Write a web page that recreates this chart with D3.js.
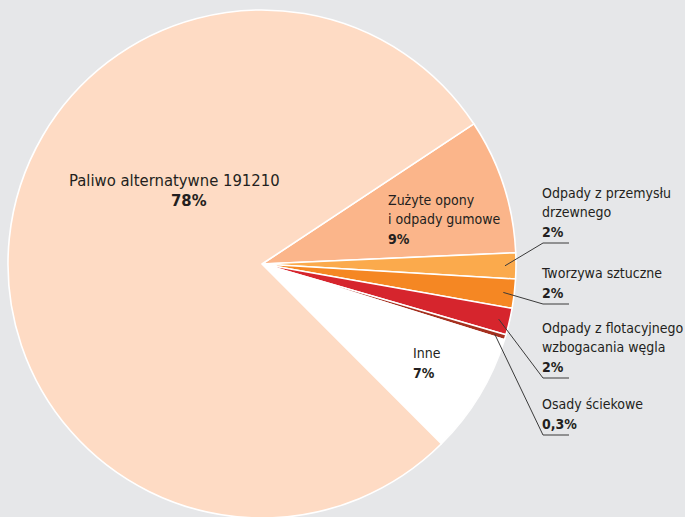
<!DOCTYPE html>
<html>
<head>
<meta charset="utf-8">
<script src="https://cdn.jsdelivr.net/npm/d3@7"></script>
<style>
  html, body { margin: 0; padding: 0; background: #e6e7e9; overflow: hidden; }
  svg { display: block; }
  text { font-family: "DejaVu Sans Condensed", "DejaVu Sans", sans-serif; fill: #231f20; }
</style>
</head>
<body>
<svg id="chart" width="685" height="517"></svg>
<script>
// ---- data ----
const categories = [
  "Zużyte opony|i odpady gumowe",
  "Odpady z przemysłu|drzewnego",
  "Tworzywa sztuczne",
  "Odpady z flotacyjnego|wzbogacania węgla",
  "Osady ściekowe",
  "Inne",
  "Paliwo alternatywne 191210"
];
const values = [8.6, 1.65, 1.85, 1.7, 0.33, 7.7, 78.2];
const percentLabels = ["9%", "2%", "2%", "2%", "0,3%", "7%", "78%"];

// ---- styling / layout ----
const colors = ["#fbb58a", "#fbaa4c", "#f58723", "#d6252d", "#a5301f", "#ffffff", "#fedbc4"];
const cx = 262, cy = 264, R = 254;
const startDeg = 56.5;

const labelLayout = [
  {x: 388, y: 205, size: 14},
  {x: 542, y: 198, size: 14, leader: true},
  {x: 542, y: 278, size: 14, leader: true},
  {x: 542, y: 333, size: 14, leader: true},
  {x: 542, y: 409, size: 14, leader: true},
  {x: 413, y: 358, size: 14},
  {x: 69, y: 186, size: 16.5, pctX: 171, pctY: 206}
];
const lineH = 19;

const svg = d3.select("#chart");
const g = svg.append("g").attr("transform", `translate(${cx},${cy})`);

const pie = d3.pie().sort(null)
  .startAngle(startDeg * Math.PI / 180)
  .endAngle(startDeg * Math.PI / 180 + 2 * Math.PI)
  .value(d => d);
const arcs = pie(values);
const arc = d3.arc().innerRadius(0).outerRadius(R);
const anchorArc = d3.arc().innerRadius(243).outerRadius(243);

g.selectAll("path.slice")
  .data(arcs)
  .join("path")
  .attr("class", "slice")
  .attr("d", arc)
  .attr("fill", (d, i) => colors[i])
  .attr("stroke", "#ffffff")
  .attr("stroke-width", 1.6)
  .attr("stroke-linejoin", "round");

arcs.forEach((a, i) => {
  const L = labelLayout[i];
  const lines = categories[i].split("|");
  const t = svg.append("text").attr("font-size", L.size);
  lines.forEach((ln, k) => {
    t.append("tspan").attr("x", L.x).attr("y", L.y + k * lineH).text(ln);
  });
  const pctY = L.pctY != null ? L.pctY : L.y + lines.length * lineH + 1;
  svg.append("text")
    .attr("x", L.pctX != null ? L.pctX : L.x)
    .attr("y", pctY)
    .attr("font-size", L.size)
    .attr("font-weight", "bold")
    .text(percentLabels[i]);
  if (L.leader) {
    const c = anchorArc.centroid(a);
    const ux = L.x + 1, uy = pctY + 6;
    svg.append("polyline")
      .attr("points", `${cx + c[0]},${cy + c[1]} ${ux},${uy} ${ux + 26},${uy}`)
      .attr("fill", "none")
      .attr("stroke", "#3a3a3a")
      .attr("stroke-width", 1);
  }
});
</script>
</body>
</html>
